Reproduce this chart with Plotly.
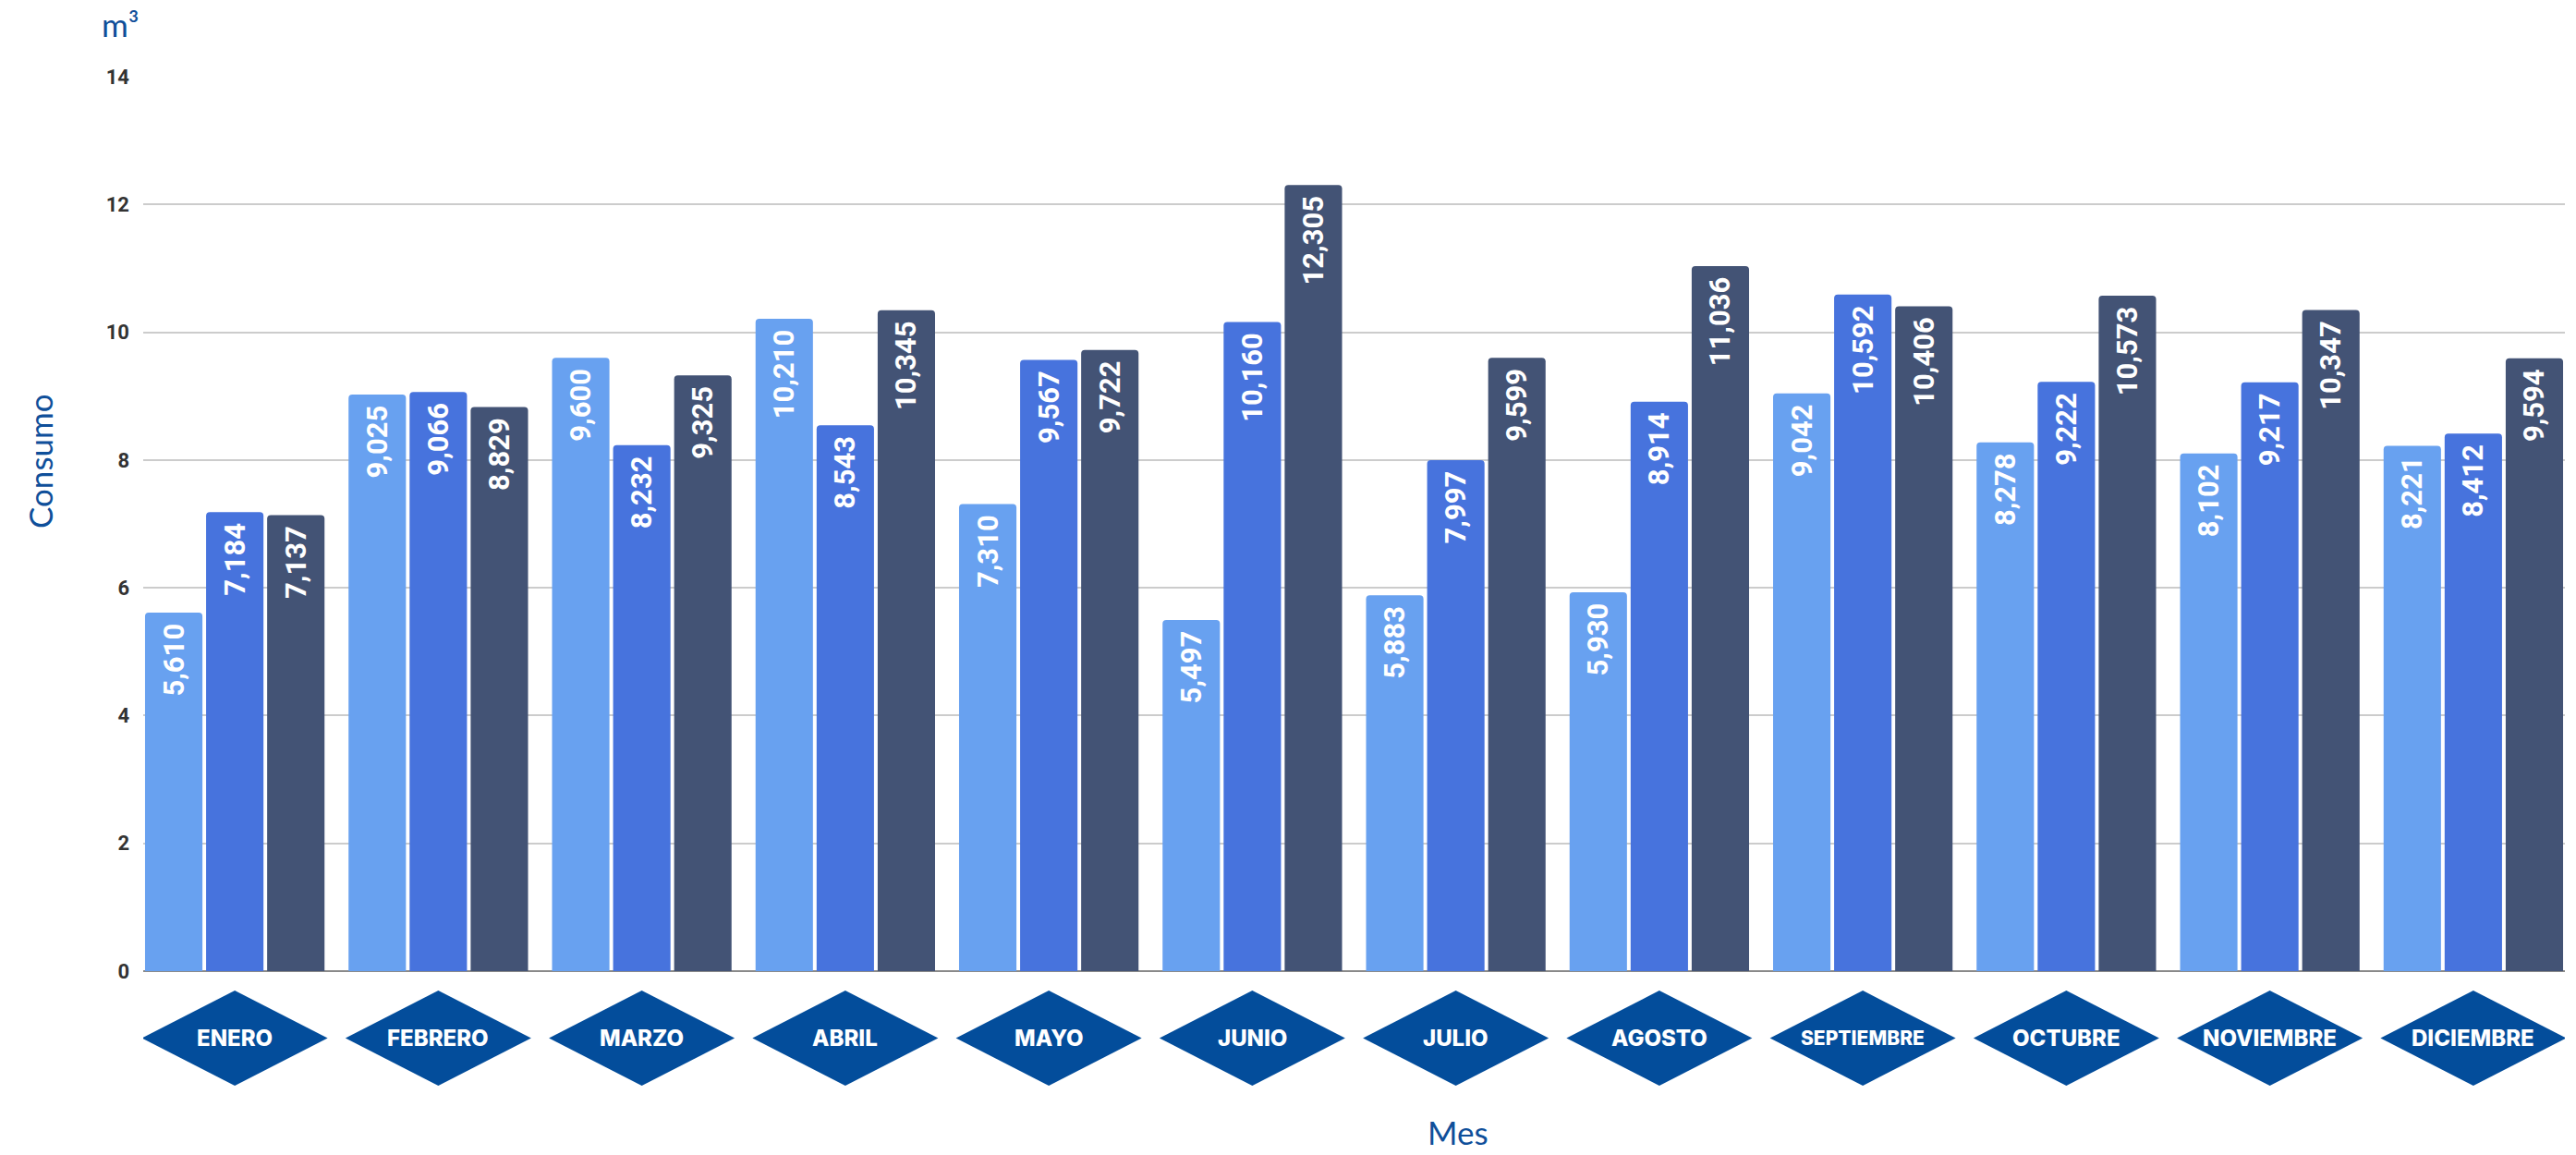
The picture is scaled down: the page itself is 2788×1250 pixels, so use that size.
import plotly.graph_objects as go

meses = ["ENERO", "FEBRERO", "MARZO", "ABRIL", "MAYO", "JUNIO", "JULIO",
         "AGOSTO", "SEPTIEMBRE", "OCTUBRE", "NOVIEMBRE", "DICIEMBRE"]
serie_1 = [5.610, 9.025, 9.600, 10.210, 7.310, 5.497, 5.883, 5.930, 9.042, 8.278, 8.102, 8.221]
serie_2 = [7.184, 9.066, 8.232, 8.543, 9.567, 10.160, 7.997, 8.914, 10.592, 9.222, 9.217, 8.412]
serie_3 = [7.137, 8.829, 9.325, 10.345, 9.722, 12.305, 9.599, 11.036, 10.406, 10.573, 10.347, 9.594]
y_ticks = [0, 2, 4, 6, 8, 10, 12, 14]

colores = ["#68A1F0", "#4773DD", "#435375"]
azul = "#034D9B"
texto_azul = "#0F4F9A"

fig = go.Figure()
for vals, col in zip([serie_1, serie_2, serie_3], colores):
    fig.add_trace(go.Bar(
        x=meses, y=vals,
        marker=dict(color=col, cornerradius=4, line=dict(width=0)),
        texttemplate="%{y:.3f}\u00a0",
        textposition="inside",
        insidetextanchor="end",
        textangle=-90,
        constraintext="none",
        insidetextfont=dict(family="Roboto", size=31, color="white", weight=700),
        hoverinfo="skip",
    ))

W, H = 2788, 1250
L, R, T, B = 155, 12, 83, 199
plot_h = H - T - B
plot_w = W - L - R


def px_x(px):
    return (px - L) / plot_w


def px_y(py):
    return (H - B - py) / plot_h


shapes = []
annotations = []
diam_y = px_y(1123.5)
for m in meses:
    shapes.append(dict(
        type="path", xref="x", yref="paper",
        xsizemode="pixel", ysizemode="pixel",
        xanchor=m, yanchor=diam_y,
        path="M -100.5 0 L 0 51.5 L 100.5 0 L 0 -51.5 Z",
        fillcolor=azul, line=dict(width=0), layer="above",
    ))
    annotations.append(dict(
        x=m, y=diam_y, xref="x", yref="paper", text=m, showarrow=False,
        font=dict(family="Inter", size=21 if m == "SEPTIEMBRE" else 24, color="white", weight=800),
        xanchor="center", yanchor="middle",
    ))

titulo_font = dict(family="Lato", size=35, color=texto_azul)
annotations.append(dict(
    x=px_x(130), y=px_y(26), xref="paper", yref="paper", text="m³", showarrow=False,
    xanchor="center", yanchor="middle", font=titulo_font))
annotations.append(dict(
    x=px_x(1578), y=px_y(1225), xref="paper", yref="paper", text="Mes", showarrow=False,
    xanchor="center", yanchor="middle", font=titulo_font))
annotations.append(dict(
    x=px_x(43), y=px_y(499), xref="paper", yref="paper", text="Consumo", showarrow=False,
    textangle=-90, xanchor="center", yanchor="middle", font=titulo_font))

fig.update_layout(
    width=W, height=H,
    margin=dict(l=L, r=R, t=T, b=B, pad=0),
    paper_bgcolor="white", plot_bgcolor="white",
    barmode="group", bargap=0.1, bargroupgap=0.06,
    showlegend=False,
    separators=",.",
    shapes=shapes,
    annotations=annotations,
    xaxis=dict(
        type="category", range=[-0.45, 11.45],
        showticklabels=False, showgrid=False, showline=False, ticks="",
    ),
    yaxis=dict(
        range=[0, 14], tickvals=y_ticks, ticktext=[str(v) for v in y_ticks],
        showgrid=True, gridcolor="#CCCCCC", gridwidth=2,
        zeroline=True, zerolinecolor="#8A8A8A", zerolinewidth=2,
        showline=False, ticks="", ticklabelstandoff=14,
        tickfont=dict(family="Roboto", size=22, color="#333333", weight=700),
    ),
)

fig.write_html("out.html")
